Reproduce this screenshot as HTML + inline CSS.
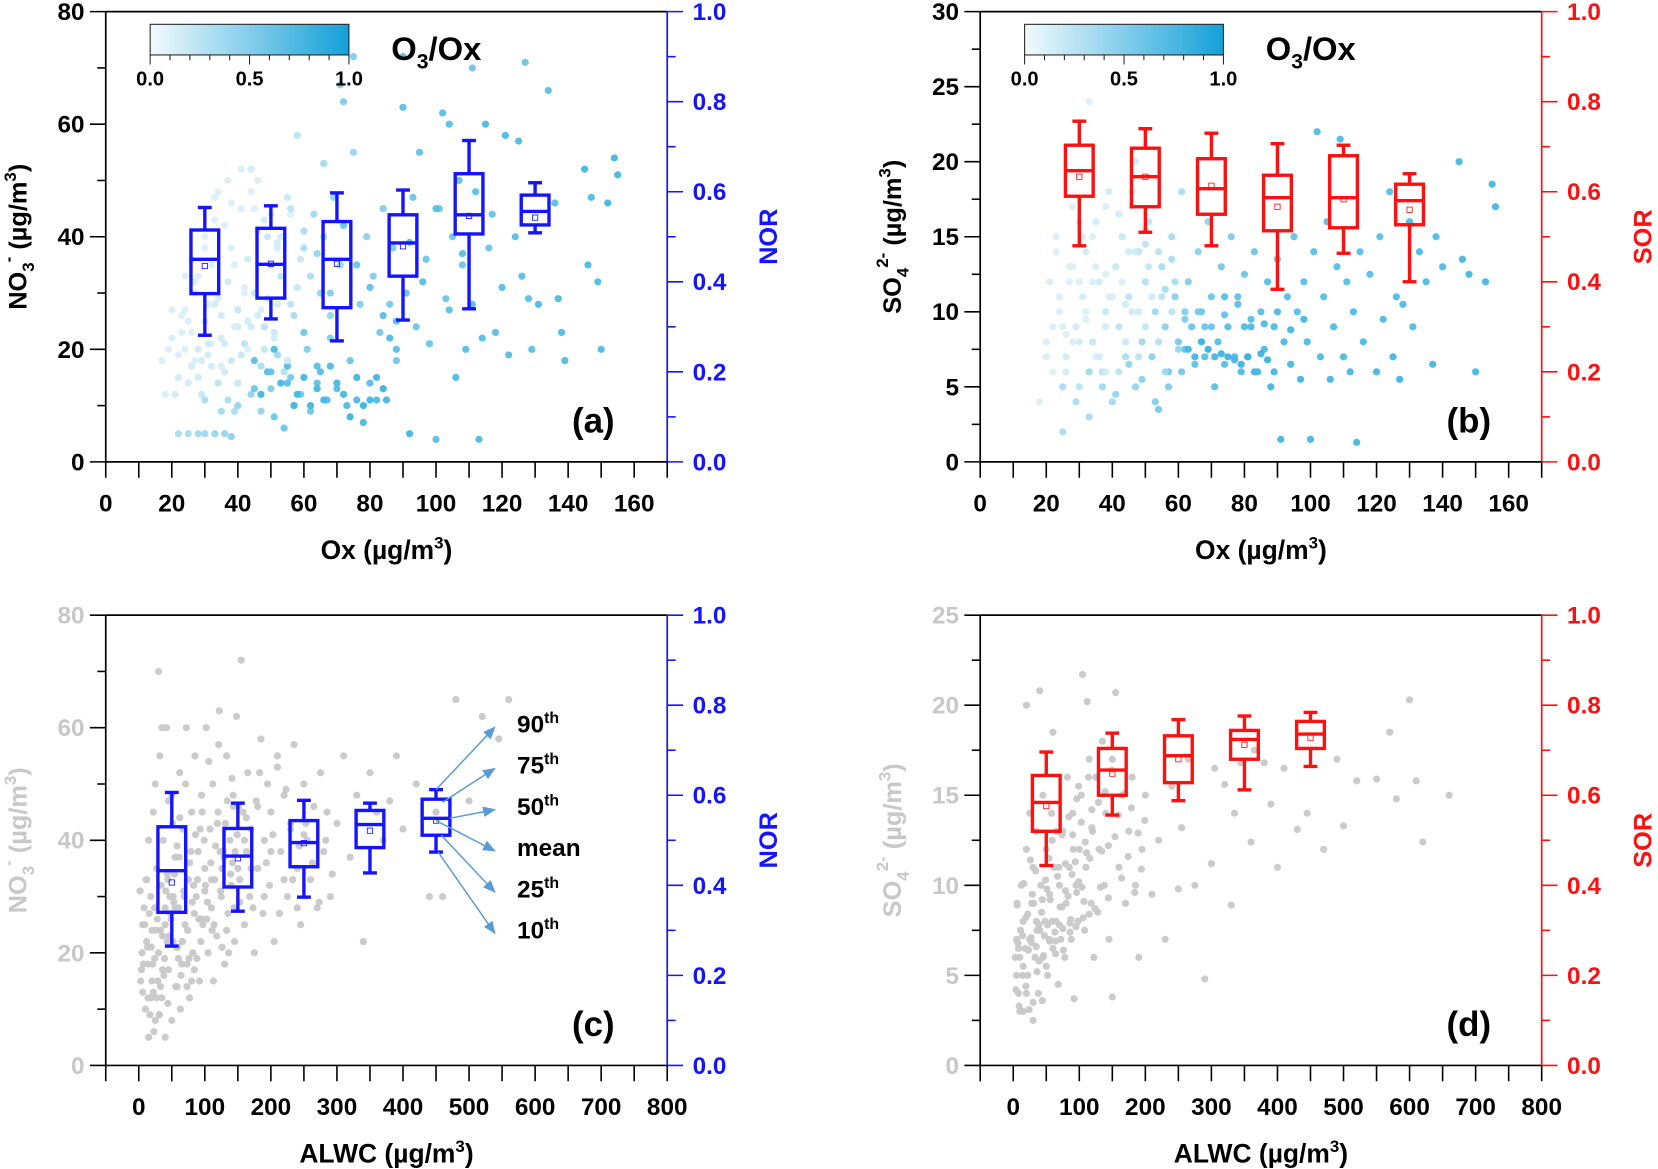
<!DOCTYPE html>
<html><head><meta charset="utf-8"><style>
html,body{margin:0;padding:0;background:#fff;}
svg{display:block;}
text{font-family:"Liberation Sans",Arial,sans-serif;font-weight:bold;}
</style></head><body>
<svg id="fig" width="1658" height="1169" viewBox="0 0 1568 1106" preserveAspectRatio="none" xmlns="http://www.w3.org/2000/svg"></svg>
<script>
// ---------- DATA ----------
const oxTicks=[0,20,40,60,80,100,120,140,160];
const alwcTicks=[0,100,200,300,400,500,600,700,800];
const no3Ticks=[0,20,40,60,80];
const so4TicksB=[0,5,10,15,20,25,30];
const so4TicksD=[0,5,10,15,20,25];
const ratioTicks=[0.0,0.2,0.4,0.6,0.8,1.0];

// panel a scatter: Ox, NO3, O3/Ox
const aX=[22,25,28,30,33,36,38,17,18,20,22,24,25,26,27,28,29,30,31,32,33,34,35,36,37,38,39,40,41,42,43,44,45,46,47,48,49,50,51,52,53,54,55,56,57,58,59,60,61,62,63,64,65,66,67,68,69,70,71,72,73,74,75,76,77,78,79,80,81,82,83,84,85,86,87,88,90,91,92,93,94,95,97,98,100,101,102,103,104,105,106,107,108,109,111,112,113,114,115,116,117,118,120,121,122,124,125,126,127,128,129,131,134,136,137,138,139,145,146,147,149,150,152,154,155,90,111,75,71,26,30,34,38,42,46,50,24,28,32,36,40,44,48,52,56];
const aY=[5,5,5,5,5,5,4.5,18,12,22,15,20,25,17,30,20,12,25,19,35,28,14,22,42,32,18,9,27,45,21,36,12,30,50,17,24,40,13,8,19,33,6,47,15,26,58,12,38,20,9,44,14,30,53,11,22,47,13,35,64,10,18,55,11,28,7,40,14,33,11,23,45,11,28,38,18,63,30,5,47,24,55,36,21,4,45,62,29,60,40,15,50,35,20,28,48,4,22,60,38,44,23,31,58,19,40,57,33,71,29,20,28,66,46,29,23,18,52,35,47,32,20,46,54,51,72,70,72,67,36,40,48,38,30,26,44,27,33,21,16,24,52,20,38,28];
const aC=[.3,.3,.35,.35,.4,.4,.45,.05,.05,.05,.1,.05,.05,.1,.05,.1,.15,.1,.1,.05,.1,.2,.1,.05,.1,.15,.3,.15,.05,.2,.1,.4,.15,.05,.3,.2,.15,.5,.6,.35,.2,.6,.15,.55,.3,.2,.6,.3,.5,.6,.35,.65,.4,.35,.7,.5,.4,.7,.4,.5,.75,.6,.4,.75,.5,.75,.45,.7,.5,.75,.55,.5,.8,.55,.5,.6,.7,.6,.8,.6,.6,.65,.6,.6,.7,.6,.7,.6,.7,.6,.75,.65,.6,.7,.7,.7,.75,.7,.75,.6,.65,.7,.7,.75,.7,.7,.75,.7,.6,.7,.7,.75,.7,.7,.75,.75,.75,.8,.75,.75,.75,.75,.8,.8,.8,.7,.6,.5,.5,.05,.05,.05,.05,.05,.1,.1,.05,.05,.05,.1,.1,.1,.05,.1,.2];
const aX2=[20,22,24,26,28,30,32,34,36,38,40,42,44,46,48,50,52,54,56,58,21,23,25,27,29,31,33,35,37,39,41,43,45,47,49,51,53,55,57,59,62,64,66,68,58,60,62,64,66,68,70,72,74,76,78,80,82,84,86,88,45,47,49,51,53,55,57,30,35,40,45,50,55,60,65,19,23,27,31,35,39,43,47,51,55,33,37,41,44,48,52,56,60,64,68,72,76,80,84,88,92,96,100,104,108];
const aY2=[27,19,33,23,15,38,17,29,21,46,14,31,24,41,20,35,28,16,44,31,12,26,14,32,18,21,43,26,11,35,19,25,45,9,29,23,40,18,10,36,33,17,40,26,12,15,10,13,11,17,14,12,8,15,10,11,15,13,22,25,18,12,16,20,14,17,10,11,9,10,13,16,14,23,16,20,23,18,28,17,24,20,27,22,18,47,50,52,48,43,39,45,41,37,30,42,35,31,26,20,39,32,45,27,37];
const aC2=[.05,.05,.05,.05,.1,.05,.1,.05,.1,.05,.15,.05,.1,.05,.15,.1,.1,.25,.05,.15,.1,.05,.1,.05,.1,.1,.05,.1,.3,.05,.15,.1,.05,.4,.1,.15,.1,.3,.6,.15,.3,.7,.3,.4,.8,.8,.8,.8,.8,.75,.8,.8,.85,.8,.85,.8,.8,.85,.75,.7,.7,.8,.75,.75,.8,.7,.8,.3,.35,.4,.6,.65,.7,.6,.7,.05,.05,.05,.05,.05,.05,.05,.05,.1,.1,.05,.05,.05,.05,.1,.1,.2,.3,.4,.5,.6,.6,.65,.7,.7,.7,.7,.7,.7,.7];
// panel a boxes (Ox bins)
const aBoxX=[30,50,70,90,110,130];
const aP10=[22.5,25.4,21.5,25.2,27.2,40.7];
const aP25=[29.9,29.1,27.4,33.0,40.5,42.1];
const aP50=[36.0,35.1,36.0,38.9,43.9,44.5];
const aP75=[41.2,41.5,42.7,43.9,51.2,47.4];
const aP90=[45.2,45.5,47.8,48.3,57.1,49.6];
const aMean=[34.8,35.2,35.2,38.3,43.7,43.4];

// panel b scatter: Ox, SO4, O3/Ox
const bX=[18,20,21,22,23,24,25,26,27,28,29,30,31,32,33,34,35,36,37,38,39,40,41,42,43,44,45,46,47,48,49,50,51,52,53,54,55,56,57,58,59,60,61,62,63,64,65,66,67,68,69,70,71,72,73,74,75,76,77,78,79,80,81,82,83,84,85,86,87,88,89,90,91,92,93,94,95,96,97,98,99,100,101,102,103,104,105,106,107,108,109,110,111,112,113,114,115,116,118,120,121,122,124,125,126,127,128,130,131,133,135,137,138,140,145,146,148,150,153,155,156,47,33,25,30,35,40,45,28,38,48];
const bY=[4,8,12,6,15,10,2,7,13,17,9,5,11,14,3,8,16,12,6,10,18,4,13,9,15,7,11,17,5,14,8,12,16,7,10,3.5,13,9,6,15,11,8,18,7.5,12,9,6.5,14,10,7,16,11,5,8,13,6.5,9,15,7,11,6,12.5,7,9.5,14,6,10,7.5,12,5,9,13.5,1.5,8,11,6.5,15,10,5.5,12,8,1.5,14,22,7,11,16,5.5,9,13,21.5,7,12,6,10,1.3,14,8,12.5,6,15,9.5,18,7,11,5.5,10.5,16,9,14,12,6.5,15,13,20,13.5,12.5,6,12,18.5,17,20,24,9,12,7,11,14,8,6,10];
const bC=[.05,.05,.05,.05,.05,.05,.3,.1,.05,.05,.1,.2,.1,.1,.3,.15,.1,.1,.25,.15,.1,.35,.15,.2,.15,.3,.2,.15,.4,.2,.35,.25,.2,.45,.35,.55,.3,.45,.55,.3,.45,.55,.3,.65,.5,.6,.65,.45,.6,.7,.4,.6,.7,.7,.55,.7,.7,.5,.75,.65,.75,.6,.75,.7,.6,.8,.7,.75,.7,.8,.75,.7,.8,.75,.7,.8,.65,.7,.8,.7,.75,.8,.7,.75,.75,.7,.7,.8,.75,.7,.75,.75,.7,.8,.75,.8,.7,.75,.7,.8,.7,.75,.7,.8,.75,.8,.75,.75,.75,.75,.75,.8,.75,.75,.8,.8,.8,.8,.8,.8,.8,.1,.05,.05,.05,.05,.1,.1,.05,.1,.1];
const bX2=[22,24,26,28,30,32,34,36,38,40,42,44,46,48,50,52,54,56,58,60,23,27,31,35,39,43,47,51,55,59,25,29,33,37,41,45,49,53,57,61,63,65,67,69,71,73,75,77,79,81,83,85,87,89,62,66,70,74,78,82,86,90,94,98,30,34,38,42,46,50,54,58,20,26,32,38,44,50,56,62,68,74,80];
const bY2=[9,11,6,13,8,10,12,7,9,11,6,8,10,7,9,11,8,6,10,7.5,14,12,15,13,11,12,14,13,11,12,5,4,6,5,4.5,6.5,5.5,4,5,6,7.5,7,8,7.5,7,7.2,7,6.8,6.5,7,6,7.2,6.8,6,9.5,10,9,9.8,10.5,9,9.2,10,8.8,9.5,16,15,17,16.5,18,15.5,14,13.5,7,8.5,9.5,12.5,10.5,14.5,11.5,10,9,11,9];
const bC2=[.05,.05,.1,.05,.1,.05,.05,.1,.1,.05,.2,.15,.1,.2,.15,.1,.25,.35,.2,.4,.05,.05,.05,.05,.05,.05,.1,.15,.2,.3,.3,.3,.35,.35,.4,.4,.45,.5,.5,.55,.8,.8,.85,.85,.8,.85,.85,.8,.85,.85,.8,.85,.85,.8,.5,.55,.6,.65,.7,.75,.75,.75,.8,.8,.05,.05,.05,.1,.1,.15,.2,.3,.05,.05,.05,.05,.1,.2,.3,.5,.6,.7,.75];
const bBoxX=[30,50,70,90,110,130];
const bP10=[14.4,15.3,14.4,11.5,13.9,12.0];
const bP25=[17.7,17.0,16.5,15.4,15.6,15.8];
const bP50=[19.4,19.0,18.2,17.6,17.6,17.4];
const bP75=[21.1,20.9,20.2,19.1,20.4,18.5];
const bP90=[22.7,22.2,21.9,21.2,21.1,19.2];
const bMean=[19.0,19.0,18.4,17.0,17.5,16.8];

// panel c scatter: ALWC, NO3
const cX=[10,12,15,18,20,22,25,27,30,30,32,35,37,40,40,42,45,47,50,50,52,55,58,60,62,65,67,70,72,75,77,80,82,85,87,90,92,95,97,100,102,105,108,110,112,115,118,120,122,125,128,130,133,135,138,140,143,145,148,150,153,155,158,160,163,165,168,170,175,178,180,185,188,190,195,198,200,205,210,215,220,225,230,235,240,245,250,255,260,265,270,275,280,285,290,300,310,320,330,340,350,360,370,380,390,400,420,440,450,460,480,500,520,545,560,5,8,3,15,25,35,45,6,14,22,33,44,55,66,77,88,12,28,38,48,58,68,18,24,36,52,62,84,96,110,126,142,20,40,60,80,100,7,17,27,57,73,92,31,43];
const cY=[10,22,5,30,15,45,8,35,20,70,55,12,40,25,5,60,17,30,48,8,22,37,14,28,52,18,42,25,60,33,12,45,20,55,30,38,15,48,25,35,60,20,42,28,50,33,23,45,63,30,38,18,55,27,40,32,48,22,62,35,29,72,45,25,38,52,30,42,20,47,35,58,27,40,50,32,45,22,55,38,48,30,42,57,35,25,50,40,33,46,28,52,38,45,30,43,55,37,48,22,52,45,40,47,55,42,50,30,45,30,65,47,62,58,65,20,28,15,40,50,60,47,25,18,13,24,33,28,22,36,19,33,26,16,27,39,31,12,19,23,30,44,17,26,33,21,36,24,28,19,15,31,18,9,12,21,14,26,9,34];
const cX2=[4,9,14,19,24,29,34,39,44,49,54,59,64,69,74,79,84,89,94,99,104,109,114,119,124,129,134,139,144,149,6,11,16,21,26,31,36,41,46,51,56,61,66,71,76,81,86,91,96,101,106,111,116,121,126,131,136,141,146,151,2,13,23,33,43,53,63,73,83,93,103,113,123,133,143,153,163,173,183,193,203,213,223,233,243,253,263,273,283,293,160,170,180,190,200,210,220,230,240,250];
const cY2=[17,25,12,21,28,15,32,19,11,26,34,21,16,30,24,38,27,33,22,40,29,36,25,43,31,37,47,34,28,41,13,33,27,18,24,9,17,31,23,43,14,37,22,50,19,29,41,26,45,32,54,24,39,57,35,43,20,51,38,46,31,21,6,14,22,29,10,18,32,42,26,15,38,24,46,33,44,28,52,36,41,27,49,33,39,43,36,29,40,34,40,35,46,30,38,53,33,43,28,41];
const cBoxX=[50,150,250,350,450];
const cP10=[21.2,27.4,29.9,34.2,37.9];
const cP25=[27.2,31.7,35.3,38.7,40.9];
const cP50=[34.6,37.2,39.6,42.8,43.9];
const cP75=[42.4,42.1,43.5,45.3,47.3];
const cP90=[48.5,46.6,47.1,46.6,49.0];
const cMean=[32.5,36.8,39.5,41.7,43.5];

// panel d scatter: ALWC, SO4
const dX=[5,5,6,8,10,12,15,15,18,20,20,22,25,25,28,30,30,33,35,35,38,40,40,42,45,45,48,50,52,55,55,58,60,60,62,65,68,70,72,75,78,80,82,85,88,90,92,95,98,100,103,105,108,110,112,115,118,120,122,125,128,130,135,138,140,145,150,150,155,160,165,170,175,180,185,190,195,200,210,220,230,240,250,255,265,275,290,300,305,320,330,335,345,360,365,380,390,400,410,430,445,470,490,500,520,550,570,580,600,610,620,660,8,14,22,28,36,44,52,64,74,86,96,106,116,132,144,10,20,30,50,70,90];
const dY=[5,7,9,4,6,10,3,8,6.5,12,20,5,7,14,9,3.5,11,6,8,13,4,7.5,20.8,10,6,15,8,12,5,7,9.5,14,6.5,18.5,11,8,4.5,10,7,13,6,9,16,11,7,14,3.7,10,8,12,15,21.7,7.5,11,20.2,17,9,13,6,16,8.5,12,18,10,14,7,3.8,17,20.7,11,15,9,13,16,10,6,12,15,9.5,12.5,7,15.5,9.8,13.2,17,10,4.8,11.2,16.5,15.6,8.9,14,16.8,12.4,17.5,16.8,14.5,11,16.5,13.1,14,12,17,13.3,15.8,15.9,18.5,14.8,20.3,15.8,12.4,15,6.5,7.2,8.4,6.8,7.5,9.2,7.8,6.9,8.8,7.4,9.6,8.2,11.5,9.9,12.2,3,4,2.5,5.5,7.8,12.8];
const dX2=[3,7,11,15,19,23,27,31,35,39,43,47,51,55,59,63,67,71,75,79,83,87,91,95,99,103,107,111,115,119,4,9,14,19,24,29,34,39,44,49,54,59,64,69,74,79,84,89,94,99,104,109,114,119,124,129,134,139,144,149,154,159,164,169,174,179,184,189,194,199,6,16,26,36,46,56,66,76,86,96];
const dY2=[6,6.8,7.5,5.5,8.2,6.4,7.1,9,6.6,7.8,8.5,7.2,9.8,6.9,8,7.4,10.5,8.8,7.6,11.2,9.4,8.1,12,7.7,10.2,13.5,9.1,11.8,8.4,14.2,4.2,3.3,5,4.4,3.1,9.5,10.8,5.8,3.6,10.3,11.5,12.5,6.2,11,12.8,9.7,13.8,10.6,11.3,15.5,9.9,12.4,16,13.2,8.7,14.6,11.9,15.2,9.3,16.4,12.7,13.9,10.4,15.1,11.6,14.3,9.6,12.9,10.9,13.6,8.9,10.1,11.4,5.2,6.1,9.2,13,6.4,7.9,14.8];
const dBoxX=[50,150,250,350,450];
const dP10=[11.1,13.9,14.7,15.3,16.6];
const dP25=[13.0,15.0,15.7,17.0,17.6];
const dP50=[14.6,16.4,17.2,18.1,18.4];
const dP75=[16.1,17.6,18.3,18.6,19.1];
const dP90=[17.4,18.45,19.2,19.4,19.6];
const dMean=[14.4,16.2,17.0,17.8,18.2];

// percentile legend labels (panel c)
const legendLabels=[["90","th"],["75","th"],["50","th"],["mean",""],["25","th"],["10","th"]];

// ---------- DRAWING ----------
const NS="http://www.w3.org/2000/svg";
const svg=document.getElementById('fig');
function el(tag,attrs,parent){const e=document.createElementNS(NS,tag);for(const k in attrs)e.setAttribute(k,attrs[k]);(parent||svg).appendChild(e);return e;}
const BLUE="#1414ff",RED="#ff1010",GRAY="#c8c8c8";
function lerpColor(c){c=Math.max(0,Math.min(1,c));const a=[228,243,247],b=[28,168,222];return`rgb(${Math.round(a[0]+(b[0]-a[0])*c)},${Math.round(a[1]+(b[1]-a[1])*c)},${Math.round(a[2]+(b[2]-a[2])*c)})`;}
function cbColor(c){const a=[242,250,252],b=[20,160,217];return`rgb(${Math.round(a[0]+(b[0]-a[0])*c)},${Math.round(a[1]+(b[1]-a[1])*c)},${Math.round(a[2]+(b[2]-a[2])*c)})`;}

function panel(p){
  const g=el('g',{});
  
  
  const L=p.left,R=p.right,T=p.top,B=p.bottom;
  const sx=v=>L+(v-p.xmin)/(p.xmax-p.xmin)*(R-L);
  const sy=v=>B-(v-p.ymin)/(p.ymax-p.ymin)*(B-T);
  const sr=v=>B-v*(B-T);
  // scatter
  const sg=el('g',{},g);
  
  
  for(let i=0;i<p.sx.length;i++){
    const c=el('circle',{cx:sx(p.sx[i]),cy:sy(p.sy[i]),r:3.4,fill:p.sc?lerpColor(p.sc[i]):GRAY,opacity:0.95},sg);
    
    
  }
  // boxes
  const hw=p.boxHalf, bc=p.boxColor;
  for(let i=0;i<p.bx.length;i++){
    const bg=el('g',{stroke:bc,'stroke-width':3.2,fill:'none'},g);
    
    
    const x=sx(p.bx[i]),x0=sx(p.bx[i]-hw),x1=sx(p.bx[i]+hw),cap=(x1-x0)*0.25;
    el('line',{x1:x,y1:sy(p.p90[i]),x2:x,y2:sy(p.p75[i])},bg);
    el('line',{x1:x,y1:sy(p.p25[i]),x2:x,y2:sy(p.p10[i])},bg);
    el('line',{x1:x-cap,y1:sy(p.p90[i]),x2:x+cap,y2:sy(p.p90[i])},bg);
    el('line',{x1:x-cap,y1:sy(p.p10[i]),x2:x+cap,y2:sy(p.p10[i])},bg);
    el('rect',{x:x0,y:sy(p.p75[i]),width:x1-x0,height:sy(p.p25[i])-sy(p.p75[i])},bg);
    el('line',{x1:x0,y1:sy(p.p50[i]),x2:x1,y2:sy(p.p50[i])},bg);
    el('rect',{x:x-2.5,y:sy(p.mean[i])-2.5,width:5,height:5,'stroke-width':0.8},bg);
  }
  // frame
  el('line',{x1:L,y1:T,x2:R,y2:T,stroke:'#000','stroke-width':1.6},g);
  el('line',{x1:L,y1:T,x2:L,y2:B,stroke:'#000','stroke-width':1.6},g);
  el('line',{x1:L,y1:B,x2:R,y2:B,stroke:'#000','stroke-width':1.6},g);
  el('line',{x1:R,y1:T,x2:R,y2:B,stroke:p.rColor,'stroke-width':1.6},g);
  // left axis
  const yt=p.yTicks, ystep=yt[1]-yt[0];
  for(let i=0;i<yt.length;i++){
    const y=sy(yt[i]);
    el('line',{x1:L-15,y1:y,x2:L,y2:y,stroke:'#000','stroke-width':1.5},g);
    if(i<yt.length-1){const ym=sy(yt[i]+ystep/2);el('line',{x1:L-8,y1:ym,x2:L,y2:ym,stroke:'#000','stroke-width':1.5},g);}
    const t=el('text',{x:L-20,y:y+8,'text-anchor':'end','font-size':23,fill:p.lColor},g);t.textContent=yt[i];
    
    
  }
  // right axis
  for(let i=0;i<ratioTicks.length;i++){
    const y=sr(ratioTicks[i]);
    el('line',{x1:R,y1:y,x2:R+15,y2:y,stroke:p.rColor,'stroke-width':1.5},g);
    if(i<ratioTicks.length-1){const ym=sr(ratioTicks[i]+0.1);el('line',{x1:R,y1:ym,x2:R+8,y2:ym,stroke:p.rColor,'stroke-width':1.5},g);}
    const t=el('text',{x:R+24,y:y+8,'font-size':23,fill:p.rColor},g);t.textContent=ratioTicks[i].toFixed(1);
    
    
  }
  // x axis
  const xt=p.xTicks, xstep=xt[1]-xt[0];
  for(let i=0;i<xt.length;i++){
    const x=sx(xt[i]);
    el('line',{x1:x,y1:B,x2:x,y2:B+15,stroke:'#000','stroke-width':1.5},g);
    const xm=sx(xt[i]+xstep/2);
    if(xm<=R+0.5) el('line',{x1:xm,y1:B,x2:xm,y2:B+15,stroke:'#000','stroke-width':1.5},g);
    const t=el('text',{x:x,y:B+47,'text-anchor':'middle','font-size':23,fill:'#000'},g);t.textContent=xt[i];
    
    
  }
  if(p.xmin<0){const x=sx(-50);el('line',{x1:x,y1:B,x2:x,y2:B+15,stroke:'#000','stroke-width':1.5},g);}
  // titles
  const xtl=el('text',{x:(L+R)/2,y:B+92,'text-anchor':'middle','font-size':25,fill:'#000'},g);
  
  
  xtl.innerHTML=p.xTitle+' (µg/m<tspan dy="-10" font-size="16">3</tspan><tspan dy="10">)</tspan>';
  const cy=(T+B)/2;
  const ytl=el('text',{x:0,y:0,'text-anchor':'middle','font-size':24,fill:p.lColor,transform:`translate(${p.left-75},${cy}) rotate(-90)`},g);
  
  
  ytl.innerHTML=p.yTitle;
  const rtl=el('text',{x:0,y:0,'text-anchor':'middle','font-size':24,fill:p.rColor,transform:`translate(${R+104},${cy}) rotate(-90)`},g);
  
  
  rtl.textContent=p.rTitle;
  const pl=el('text',{x:R-90,y:B-28,'font-size':33,fill:'#000'},g);
  
  
  pl.textContent=p.label;
  // colorbar
  if(p.sc){
    const id='grad'+p.label.replace(/\W/g,'');
    const defs=el('defs',{},g);const lg=el('linearGradient',{id:id,x1:0,x2:1,y1:0,y2:0},defs);
    el('stop',{offset:0,'stop-color':cbColor(0)},lg);el('stop',{offset:1,'stop-color':cbColor(1)},lg);
    const cx0=L+42,cw=188;
    const cb=el('rect',{x:cx0,y:T+12,width:cw,height:29,fill:`url(#${id})`,stroke:'#222','stroke-width':1},g);
    
    
    for(let k=0;k<=10;k++){const x=cx0+cw*k/10;el('line',{x1:x,y1:T+41,x2:x,y2:T+(k%5==0?50:46),stroke:'#222','stroke-width':1},g);}
    [0,0.5,1].forEach(v=>{const t=el('text',{x:cx0+cw*v,y:T+70,'text-anchor':'middle','font-size':19,fill:'#000'},g);t.textContent=v.toFixed(1);
      
      });
    const ct=el('text',{x:L+270,y:T+46,'font-size':31,fill:'#000'},g);
    
    
    ct.innerHTML='O<tspan dy="8" font-size="20">3</tspan><tspan dy="-8">/Ox</tspan>';
  }
  return {sx,sy};
}

const NO3T='NO<tspan dy="7" font-size="16">3</tspan><tspan dy="-19" font-size="16">-</tspan><tspan dy="12"> (µg/m</tspan><tspan dy="-10" font-size="16">3</tspan><tspan dy="10">)</tspan>';
const SO4T='SO<tspan dy="7" font-size="16">4</tspan><tspan dy="-19" font-size="16">2-</tspan><tspan dy="12"> (µg/m</tspan><tspan dy="-10" font-size="16">3</tspan><tspan dy="10">)</tspan>';

panel({name:'panel-a',label:'(a)',left:100,right:631,top:11,bottom:437,xmin:0,xmax:170,ymin:0,ymax:80,
  xTicks:oxTicks,yTicks:no3Ticks,sx:aX.concat(aX2),sy:aY.concat(aY2),sc:aC.concat(aC2),bx:aBoxX,p10:aP10,p25:aP25,p50:aP50,p75:aP75,p90:aP90,mean:aMean,
  boxHalf:4.2,boxColor:BLUE,lColor:'#000',rColor:BLUE,xTitle:'Ox',yTitle:NO3T,rTitle:'NOR'});
panel({name:'panel-b',label:'(b)',left:927,right:1458,top:11,bottom:437,xmin:0,xmax:170,ymin:0,ymax:30,
  xTicks:oxTicks,yTicks:so4TicksB,sx:bX.concat(bX2),sy:bY.concat(bY2),sc:bC.concat(bC2),bx:bBoxX,p10:bP10,p25:bP25,p50:bP50,p75:bP75,p90:bP90,mean:bMean,
  boxHalf:4.2,boxColor:RED,lColor:'#000',rColor:RED,xTitle:'Ox',yTitle:SO4T,rTitle:'SOR'});
const pc=panel({name:'panel-c',label:'(c)',left:100,right:631,top:582,bottom:1008,xmin:-50,xmax:800,ymin:0,ymax:80,
  xTicks:alwcTicks,yTicks:no3Ticks,sx:cX.concat(cX2),sy:cY.concat(cY2),sc:null,bx:cBoxX,p10:cP10,p25:cP25,p50:cP50,p75:cP75,p90:cP90,mean:cMean,
  boxHalf:21,boxColor:BLUE,lColor:GRAY,rColor:BLUE,xTitle:'ALWC',yTitle:NO3T,rTitle:'NOR'});
panel({name:'panel-d',label:'(d)',left:927,right:1458,top:582,bottom:1008,xmin:-50,xmax:800,ymin:0,ymax:25,
  xTicks:alwcTicks,yTicks:so4TicksD,sx:dX.concat(dX2),sy:dY.concat(dY2),sc:null,bx:dBoxX,p10:dP10,p25:dP25,p50:dP50,p75:dP75,p90:dP90,mean:dMean,
  boxHalf:21,boxColor:RED,lColor:GRAY,rColor:RED,xTitle:'ALWC',yTitle:SO4T,rTitle:'SOR'});

// percentile legend arrows in panel c
const lg=el('g',{});


const defs=el('defs',{},lg);
const mk=el('marker',{id:'arr',markerWidth:12,markerHeight:10,refX:11,refY:5,orient:'auto',markerUnits:'userSpaceOnUse'},defs);
el('path',{d:'M0,0 L12,5 L0,10 z',fill:'#5b9bd5'},mk);
const i5=4, bxp=pc.sx(cBoxX[i5]);
const srcs=[[bxp,pc.sy(cP90[i5])],[bxp+6,pc.sy(cP75[i5])+3],[bxp+13,pc.sy(cP50[i5])],[bxp,pc.sy(cMean[i5])],[bxp+5,pc.sy(cP25[i5])],[bxp+2,pc.sy(cP10[i5])]];
for(let k=0;k<legendLabels.length;k++){
  const ty=688+k*39;
  el('line',{x1:srcs[k][0],y1:srcs[k][1],x2:468,y2:ty,stroke:'#5b9bd5','stroke-width':1.4,'marker-end':'url(#arr)'},lg);
  const t=el('text',{x:489,y:ty+5,'font-size':23,fill:'#000'},lg);
  
  
  t.innerHTML=legendLabels[k][0]+(legendLabels[k][1]?'<tspan dy="-9" font-size="15">'+legendLabels[k][1]+'</tspan>':'');
}
</script>
</body></html>
